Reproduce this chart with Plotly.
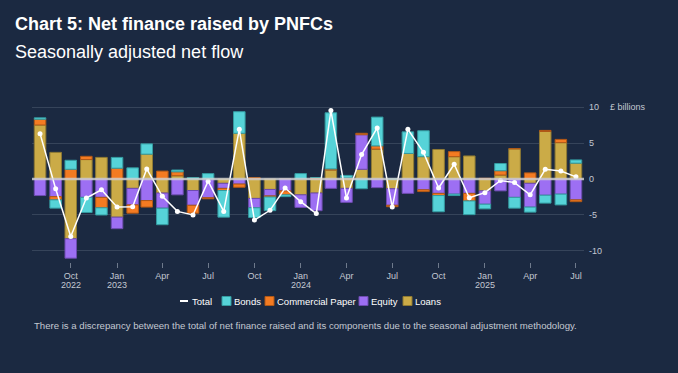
import plotly.graph_objects as go

months = ["2022-08-01", "2022-09-01", "2022-10-01", "2022-11-01", "2022-12-01",
          "2023-01-01", "2023-02-01", "2023-03-01", "2023-04-01", "2023-05-01",
          "2023-06-01", "2023-07-01", "2023-08-01", "2023-09-01", "2023-10-01",
          "2023-11-01", "2023-12-01", "2024-01-01", "2024-02-01", "2024-03-01",
          "2024-04-01", "2024-05-01", "2024-06-01", "2024-07-01", "2024-08-01",
          "2024-09-01", "2024-10-01", "2024-11-01", "2024-12-01", "2025-01-01",
          "2025-02-01", "2025-03-01", "2025-04-01", "2025-05-01", "2025-06-01",
          "2025-07-01"]

loans = [7.5, 3.7, -8.3, 2.7, 3.0, -5.3, -1.3, 3.45, -1.95, 0.45,
         -1.6, 0.0, -0.6, 6.35, -2.7, -1.45, 0.0, -2.2, -1.95, 1.25,
         -1.3, 1.35, 4.15, -1.35, 3.55, 3.1, 4.1, 3.1, 3.2, -1.65,
         0.55, 4.2, -0.6, 6.6, 5.05, 2.2]
equity = [-2.3, -2.45, -2.7, -2.55, -2.55, -1.6, -2.3, -3.0, -2.1, -2.2,
          -2.05, -2.6, -0.7, -0.7, -1.3, -0.9, -1.65, -1.75, -2.45, -1.3,
          -1.95, 4.8, -1.2, -2.3, -2.0, -1.5, -2.0, -2.1, -2.0, -1.85,
          -1.65, -2.55, -3.3, -2.25, -2.1, -2.9]
commercial_paper = [0.8, -0.45, 1.35, 0.45, -1.45, 1.5, -1.15, -0.9, 1.1, 0.55,
                    -1.1, -0.15, -0.3, -0.45, 0.2, -0.15, -0.55, 0.0, 0.2, 0.15,
                    0.15, 0.2, 0.45, -0.2, 0.0, -0.25, -0.3, 0.7, -1.05, 0.1,
                    0.6, 0.0, 0.85, 0.15, 0.45, -0.25]
bonds = [0.2, -1.15, 1.25, -2.1, -1.0, 1.5, 1.55, 1.43, -2.3, 0.25,
         0.2, 0.75, -3.7, 3.0, -1.35, -1.9, -0.25, 0.75, 0.0, 7.8,
         0.35, -1.35, 4.0, 0.0, 3.0, 3.6, -2.25, -0.2, -1.9, -0.65,
         1.0, -1.5, -0.7, -1.1, -1.5, 0.45]
total = [6.3, -1.35, -8.0, -2.65, -1.5, -3.9, -3.85, 1.4, -2.4, -4.5,
         -5.0, -0.3, -4.5, 6.9, -5.7, -4.35, -1.25, -3.15, -4.8, 9.5,
         -2.65, 3.4, 7.1, -3.9, 6.9, 3.7, -1.25, 2.05, -2.6, -1.9,
         -0.2, -0.5, -2.2, 1.35, 1.1, 0.3]

tick_vals = ["2022-10-01", "2023-01-01", "2023-04-01", "2023-07-01", "2023-10-01",
             "2024-01-01", "2024-04-01", "2024-07-01", "2024-10-01", "2025-01-01",
             "2025-04-01", "2025-07-01"]
tick_text = ["Oct", "Jan", "Apr", "Jul", "Oct", "Jan", "Apr", "Jul", "Oct", "Jan", "Apr", "Jul"]
year_pos = ["2022-10-01", "2023-01-01", "2024-01-01", "2025-01-01"]
year_text = ["2022", "2023", "2024", "2025"]
y_ticks = [-10, -5, 0, 5, 10]
legend_names = ["Total", "Bonds", "Commercial Paper", "Equity", "Loans"]

BG = "#1b2941"
TXT = "#c3c8d1"
GRID = "#36445a"
COLORS = {"Loans": ("#cbab47", "#8f7a33"), "Equity": ("#9d6ff3", "#6e4cb0"),
          "Commercial Paper": ("#f47b22", "#b05816"), "Bonds": ("#56d3d8", "#349ba0")}

W, H = 678, 373
L, R, T, B = 32, 94, 106, 111
PW, PH = W - L - R, H - T - B


def px(x):
    return (x - L) / PW


def py(y):
    return (H - B - y) / PH


fig = go.Figure()
for name, vals in [("Loans", loans), ("Equity", equity),
                   ("Commercial Paper", commercial_paper), ("Bonds", bonds)]:
    col, lcol = COLORS[name]
    fig.add_trace(go.Bar(x=months, y=vals, name=name,
                         marker=dict(color=col, line=dict(color=lcol, width=1))))
fig.add_trace(go.Scatter(x=months, y=total, name="Total", mode="lines+markers",
                         line=dict(color="white", width=1.5),
                         marker=dict(color="white", size=5)))

fig.add_shape(type="line", xref="paper", yref="y", x0=0, x1=1, y0=0, y1=0,
              line=dict(color="rgba(215,215,215,0.8)", width=2.5), layer="above")

# compact legend drawn as shapes + text
legend_x = {"Total": 180, "Bonds": 222, "Commercial Paper": 265, "Equity": 359, "Loans": 403}
ly = 301
annotations = []
for name in legend_names:
    x0 = legend_x[name]
    if name == "Total":
        fig.add_shape(type="line", xref="paper", yref="paper",
                      x0=px(x0), x1=px(x0 + 8), y0=py(ly), y1=py(ly),
                      line=dict(color="white", width=2))
    else:
        col, lcol = COLORS[name]
        fig.add_shape(type="rect", xref="paper", yref="paper",
                      x0=px(x0), x1=px(x0 + 9), y0=py(ly + 4.5), y1=py(ly - 4.5),
                      fillcolor=col, line=dict(color=lcol, width=1))
    annotations.append(dict(text=name, xref="paper", yref="paper", x=px(x0 + 10), y=py(ly),
                            xanchor="left", yanchor="middle", showarrow=False,
                            font=dict(size=9.5, color="white")))

for xp, yt in zip(year_pos, year_text):
    annotations.append(dict(text=yt, xref="x", yref="paper", x=xp, y=py(284.5),
                            xanchor="center", yanchor="middle", showarrow=False,
                            font=dict(size=9, color=TXT)))

annotations += [
    dict(text="<b>Chart 5: Net finance raised by PNFCs</b>", xref="paper", yref="paper",
         x=px(13), y=py(24.4), xanchor="left", yanchor="middle", showarrow=False,
         font=dict(size=18, color="white")),
    dict(text="Seasonally adjusted net flow", xref="paper", yref="paper",
         x=px(13), y=py(52), xanchor="left", yanchor="middle", showarrow=False,
         font=dict(size=18, color="white")),
    dict(text="£ billions", xref="paper", yref="y", x=px(608), y=10,
         xanchor="left", yanchor="middle", showarrow=False,
         font=dict(size=9, color=TXT)),
    dict(text="There is a discrepancy between the total of net finance raised and its components due to the seasonal adjustment methodology.",
         xref="paper", yref="paper", x=0, y=py(325), xanchor="left", yanchor="middle",
         showarrow=False, font=dict(size=9.6, color=TXT)),
]

fig.update_layout(
    width=W, height=H,
    paper_bgcolor=BG, plot_bgcolor=BG,
    barmode="relative", bargap=0.18,
    margin=dict(l=L, r=R, t=T, b=B),
    font=dict(family="Liberation Sans, Arial, sans-serif", color=TXT, size=9),
    showlegend=False,
    xaxis=dict(type="date", range=["2022-07-16", "2025-07-17"],
               tickmode="array", tickvals=tick_vals, ticktext=tick_text,
               ticks="outside", ticklen=5, tickcolor="#6f7a8c",
               showgrid=False, zeroline=False, showline=False,
               tickfont=dict(size=9, color=TXT)),
    yaxis=dict(side="right", range=[-11.53, 10.14], tickmode="array",
               tickvals=y_ticks, ticktext=[str(v) for v in y_ticks],
               showgrid=True, gridcolor=GRID, gridwidth=1, zeroline=False,
               showline=False, ticks="", ticklabelstandoff=4,
               tickfont=dict(size=9, color=TXT)),
    annotations=annotations,
)

fig.write_html("out.html", config={"displayModeBar": False},
               post_script="document.body.style.margin='0';")
